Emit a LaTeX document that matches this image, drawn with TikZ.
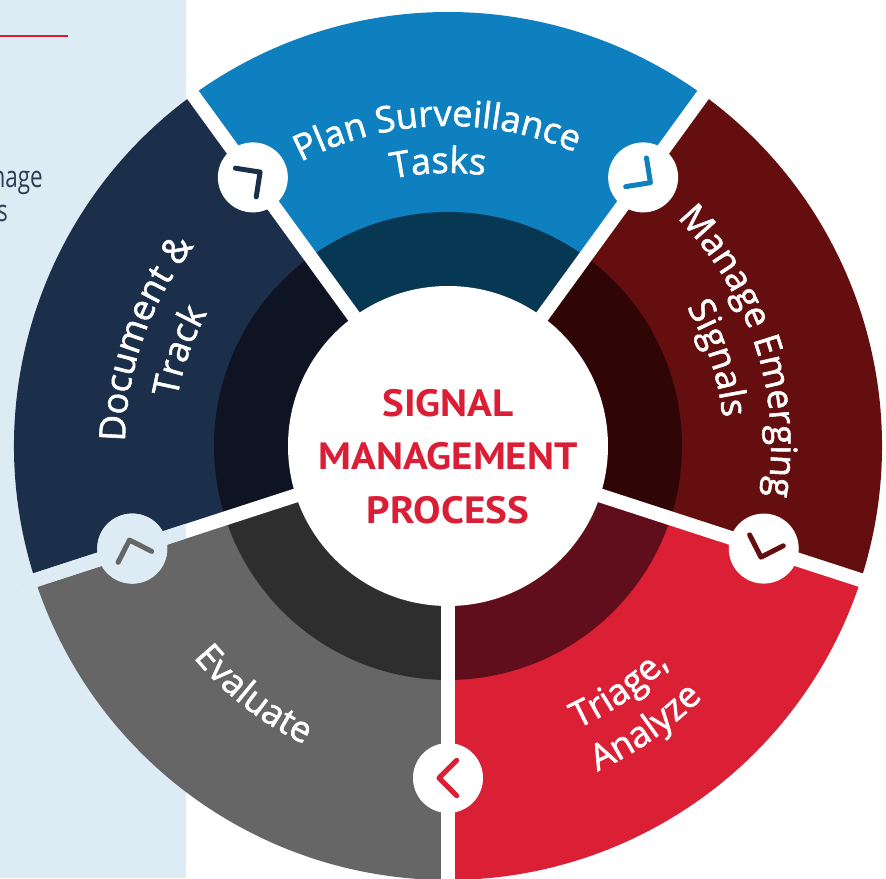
\documentclass[tikz,border=0pt]{standalone}
\usepackage{fontspec}
\setmainfont{Open Sans}
\newfontfamily\lblfont{Open Sans}[FakeBold=1.5]
\newfontfamily\ctrfont{PT Sans}
\usetikzlibrary{decorations.text}

\definecolor{panelbg}{HTML}{DDEBF5}
\definecolor{blueseg}{HTML}{0F80BF}
\definecolor{bluedk}{HTML}{073853}
\definecolor{navyseg}{HTML}{1C2F4A}
\definecolor{navydk}{HTML}{0E1422}
\definecolor{maroonseg}{HTML}{650E0F}
\definecolor{maroondk}{HTML}{2F0506}
\definecolor{redseg}{HTML}{DB1F35}
\definecolor{reddk}{HTML}{600E1B}
\definecolor{greyseg}{HTML}{666666}
\definecolor{greydk}{HTML}{2E2E2E}
\definecolor{sigred}{HTML}{DA1E36}
\definecolor{paneltxt}{HTML}{2E3D55}

\newcommand\seglbl{\lblfont\fontsize{36}{40}\selectfont\color{white}}
\newcommand\ctrline[1]{\scalebox{1.08}[1]{#1}}

\tikzset{
  gapline/.style={line width=14pt},
  chevron/.style={line width=5pt, line cap=round, line join=round},
  ctrtext/.style={font=\ctrfont\bfseries\fontsize{38}{42}\selectfont, text=sigred, anchor=base, inner sep=0pt},
  paneltext/.style={font=\fontsize{30}{34}\selectfont, text=paneltxt, anchor=base east, inner sep=0pt},
  arclabel/.style={decorate, decoration={text along path, text align=center, text={|\seglbl|#1}}}
}

\begin{document}
\begin{tikzpicture}[x=1pt,y=1pt]
\useasboundingbox (-448,-432) rectangle (438,446);
\fill[white] (-448,-432) rectangle (438,446);
\fill[panelbg] (-448,-432) rectangle (-262,446);
\draw[sigred, line width=2pt] (-448,410) -- (-380,410);
\node[paneltext] (pn1) at (-405,258) {\scalebox{0.75}[1]{nage}};
\node[paneltext] (pn2) at (-440,224) {\scalebox{0.75}[1]{s}};

% segments
\foreach \a/\col/\dk in {-18/maroonseg/maroondk, 54/blueseg/bluedk, 126/navyseg/navydk, 198/greyseg/greydk, 270/redseg/reddk} {
  \fill[\col] (0,0) -- (\a:434pt) arc[start angle=\a, end angle=\a+72, radius=434pt] -- cycle;
  \fill[\dk] (0,0) -- (\a:234pt) arc[start angle=\a, end angle=\a+72, radius=234pt] -- cycle;
}
% gaps and badges
\foreach \a in {-18,54,126,198,270} {
  \draw[white, gapline] (0,0) -- (\a:452pt);
  \fill[white] (\a:332pt) circle[radius=35pt];
}
\begin{scope}
  \clip (-448,-432) rectangle (-262,446);
  \foreach \a in {-18,54,126,198,270} {
    \draw[panelbg, gapline] (0,0) -- (\a:452pt);
    \fill[panelbg] (\a:332pt) circle[radius=35pt];
  }
\end{scope}
\fill[white] (0,0) circle[radius=160pt];

% chevrons
\foreach \a/\col in {-18/maroonseg, 54/blueseg, 126/navyseg, 198/greyseg, 270/redseg} {
  \draw[chevron, \col, shift={(\a:332pt)}, rotate=\a-90] (-8.7,17.7) -- (9,0) -- (-8.7,-17.7);
}

% labels
\path[arclabel={Plan Surveillance}] (152:320pt) arc[start angle=152, end angle=32, radius=320pt];
\path[arclabel={Tasks}] (152:273pt) arc[start angle=152, end angle=32, radius=273pt];
\path[arclabel={Manage Emerging}] (78:323pt) arc[start angle=78, end angle=-42, radius=323pt];
\path[arclabel={Signals}] (78:276pt) arc[start angle=78, end angle=-42, radius=276pt];
\path[arclabel={Document {\&}}] (220.5:323pt) arc[start angle=220.5, end angle=100.5, radius=323pt];
\path[arclabel={Track}] (220.5:275pt) arc[start angle=220.5, end angle=100.5, radius=275pt];
\path[arclabel={Evaluate}] (172:331pt) arc[start angle=172, end angle=292, radius=331pt];
\path[arclabel={Triage,}] (-115:311pt) arc[start angle=-115, end angle=5, radius=311pt];
\path[arclabel={Analyze}] (-115:358pt) arc[start angle=-115, end angle=5, radius=358pt];

% centre
\node[ctrtext] (ctrA) at (0,29) {\ctrline{SIGNAL}};
\node[ctrtext] (ctrB) at (0,-23) {\ctrline{MANAGEMENT}};
\node[ctrtext] (ctrC) at (0,-77) {\ctrline{PROCESS}};
\end{tikzpicture}
\end{document}
